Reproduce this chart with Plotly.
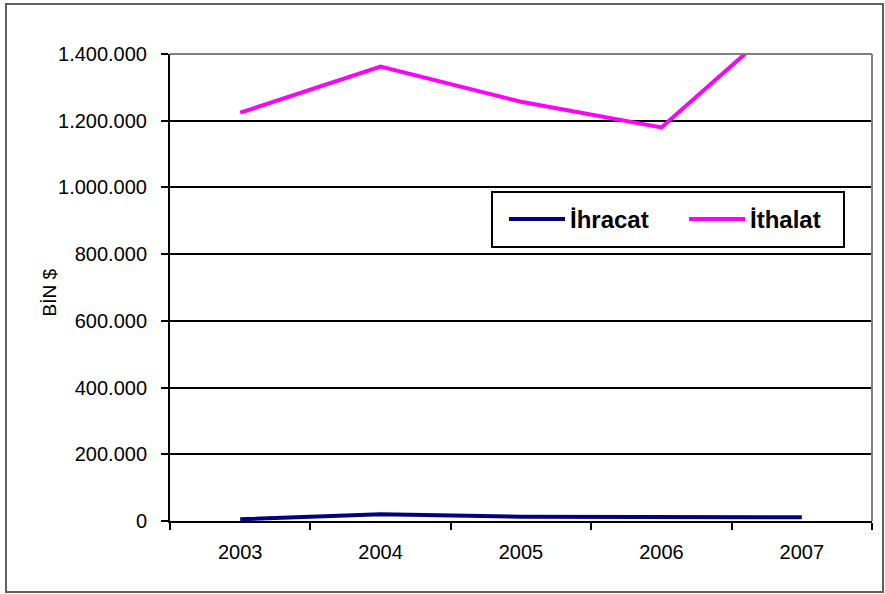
import plotly.graph_objects as go

years = ["2003", "2004", "2005", "2006", "2007"]
ihracat = [5000, 20000, 13000, 12000, 11000]
ithalat = [1224000, 1362000, 1257000, 1180000, 1550000]
y_ticks = [0, 200000, 400000, 600000, 800000, 1000000, 1200000, 1400000]

L, R, T, B = 170, 872, 54, 521
W, H = 885, 594
pw, ph = R - L, B - T

def px(x):
    return (x - L) / pw

def py(y):
    return (B - y) / ph

fig = go.Figure()
fig.add_trace(go.Scatter(x=years, y=ihracat, mode="lines", name="İhracat",
                         line=dict(color="#000080", width=4)))
fig.add_trace(go.Scatter(x=years, y=ithalat, mode="lines", name="İthalat",
                         line=dict(color="#FF00FF", width=4)))

fig.update_layout(
    width=W, height=H,
    margin=dict(l=L, r=W - R, t=T, b=H - B),
    paper_bgcolor="white", plot_bgcolor="white",
    separators=",.",
    font=dict(family="Liberation Sans, Arial", color="black"),
    showlegend=True,
    legend=dict(
        x=px(504), y=py(219.5), xanchor="left", yanchor="middle",
        orientation="h",
        bgcolor="rgba(0,0,0,0)", borderwidth=0,
        font=dict(size=24, family="Liberation Sans, Arial", color="black", weight="bold"),
        entrywidth=109, entrywidthmode="pixels",
        itemwidth=56,
    ),
)

fig.update_xaxes(
    type="category", range=[-0.5, 4.5],
    showline=True, linecolor="black", linewidth=2,
    showgrid=False,
    ticks="outside", tickson="boundaries", ticklen=7, tickwidth=2, tickcolor="black",
    tickfont=dict(size=20, color="black"),
    ticklabelstandoff=12,
)
fig.update_yaxes(
    range=[0, 1400000], tickvals=y_ticks, tickformat=",d",
    showline=True, linecolor="black", linewidth=2,
    showgrid=True, gridcolor="black", gridwidth=2,
    zeroline=False,
    ticks="outside", ticklen=7, tickwidth=2, tickcolor="black",
    tickfont=dict(size=20, color="black"),
    ticklabelstandoff=10,
)

# plot-area border (top and right, gray)
fig.add_shape(type="line", xref="paper", yref="paper", x0=0, x1=1, y0=1, y1=1,
              line=dict(color="#808080", width=2), layer="above")
fig.add_shape(type="line", xref="paper", yref="paper", x0=1, x1=1, y0=0, y1=1,
              line=dict(color="#808080", width=2), layer="above")
# legend box
fig.add_shape(type="rect", xref="paper", yref="paper",
              x0=px(492), x1=px(844), y0=py(247), y1=py(192),
              fillcolor="white", line=dict(color="black", width=2), layer="above")
# chart outer border
fig.add_shape(type="rect", xref="paper", yref="paper",
              x0=px(6), x1=px(883), y0=py(592), y1=py(4),
              line=dict(color="#606060", width=2), layer="above")

fig.add_annotation(text="BİN $", xref="paper", yref="paper",
                   x=px(36.5), y=py(292.5), textangle=-90, showarrow=False,
                   font=dict(size=19, color="black"))

fig.write_html("out.html", config={"displayModeBar": False},
               post_script="document.body.style.margin='0';document.body.style.padding='0';")
